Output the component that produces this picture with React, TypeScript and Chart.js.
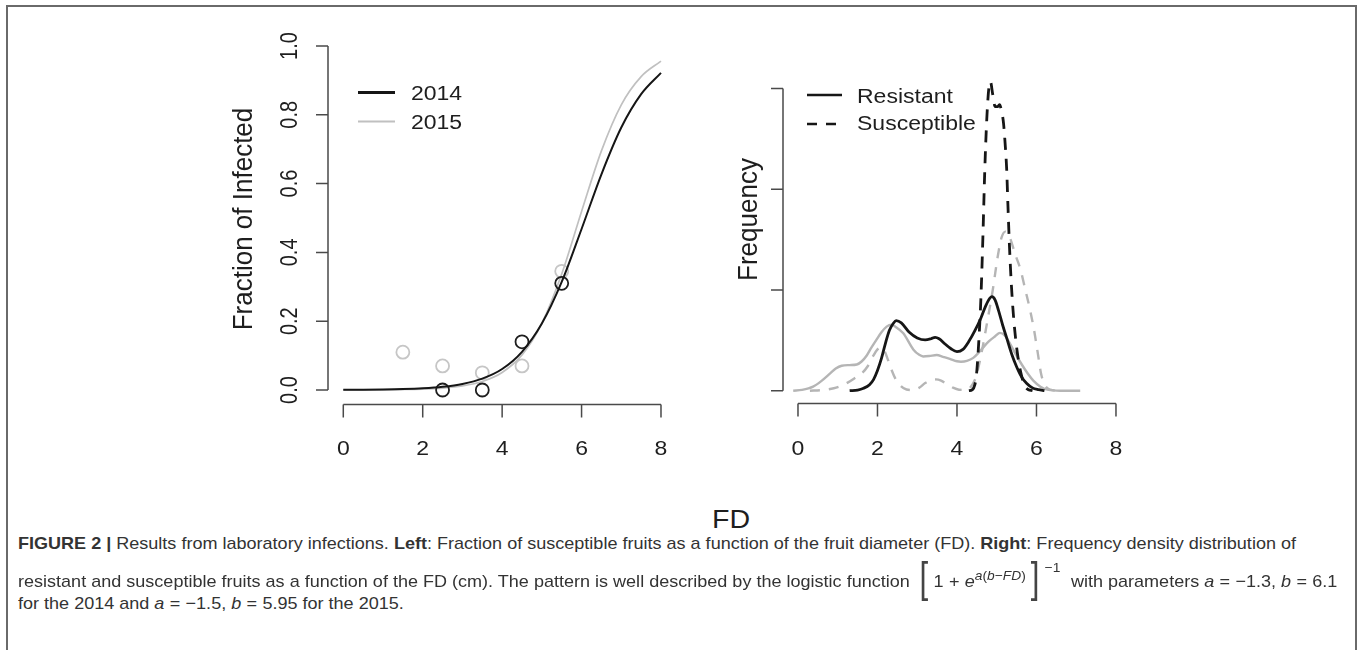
import React, { useEffect, useLayoutEffect, useRef, useState } from "react";
import { Chart, registerables } from "chart.js";

Chart.register(...registerables);

// ---------------- data: left panel ----------------
const fitGridFD = [0, 0.5, 1, 1.5, 2, 2.5, 3, 3.5, 4, 4.5, 5, 5.5, 6, 6.5, 7, 7.5, 8];
const fit2014 = [0.0004, 0.0007, 0.0013, 0.0025, 0.0048, 0.0092, 0.0175, 0.033, 0.061, 0.111, 0.193, 0.314, 0.468, 0.627, 0.763, 0.86, 0.922];
const fit2015 = [0.0001, 0.0003, 0.0006, 0.0013, 0.0027, 0.0056, 0.0118, 0.0247, 0.0509, 0.102, 0.194, 0.337, 0.519, 0.695, 0.829, 0.911, 0.956];
const obs2014FD = [2.5, 3.5, 4.5, 5.5];
const obs2014Frac = [0.0, 0.0, 0.14, 0.31];
const obs2015FD = [1.5, 2.5, 3.5, 4.5, 5.5];
const obs2015Frac = [0.11, 0.07, 0.05, 0.07, 0.345];
const leftXTicks = [0, 2, 4, 6, 8];
const leftXTickLabels = ["0", "2", "4", "6", "8"];
const leftYTicks = [0, 0.2, 0.4, 0.6, 0.8, 1.0];
const leftYTickLabels = ["0.0", "0.2", "0.4", "0.6", "0.8", "1.0"];
const leftLegendLabels = ["2014", "2015"];

// ---------------- data: right panel ----------------
const res2014FD = [1.3, 1.5, 1.65, 1.8, 1.9, 2.0, 2.1, 2.2, 2.3, 2.4, 2.47, 2.6, 2.8, 3.0, 3.2, 3.35, 3.45, 3.55, 3.7, 3.85, 4.0, 4.15, 4.3, 4.45, 4.6, 4.72, 4.8, 4.88, 4.96, 5.05, 5.15, 5.25, 5.38, 5.5, 5.62, 5.75, 5.9, 6.05, 6.2];
const res2014Dens = [0, 0.003, 0.012, 0.03, 0.055, 0.1, 0.16, 0.235, 0.3, 0.335, 0.348, 0.337, 0.29, 0.262, 0.252, 0.258, 0.265, 0.258, 0.232, 0.208, 0.194, 0.205, 0.245, 0.298, 0.36, 0.42, 0.452, 0.467, 0.45, 0.395, 0.325, 0.262, 0.18, 0.119, 0.07, 0.037, 0.014, 0.005, 0];
const sus2014FD = [4.3, 4.38, 4.45, 4.5, 4.55, 4.6, 4.65, 4.7, 4.75, 4.8, 4.84, 4.9, 4.96, 5.02, 5.07, 5.12, 5.17, 5.21, 5.25, 5.28, 5.32, 5.37, 5.43, 5.52, 5.63, 5.72, 5.8, 5.9];
const sus2014Dens = [0, 0.004, 0.03, 0.1, 0.25, 0.45, 0.75, 1.1, 1.35, 1.5, 1.535, 1.47, 1.41, 1.41, 1.42, 1.39, 1.33, 1.23, 1.1, 0.93, 0.72, 0.52, 0.35, 0.186, 0.07, 0.02, 0.005, 0];
const res2015FD = [-0.12, 0.1, 0.38, 0.6, 0.81, 0.95, 1.1, 1.3, 1.48, 1.6, 1.73, 1.85, 1.98, 2.1, 2.23, 2.35, 2.45, 2.65, 2.9, 3.05, 3.15, 3.3, 3.49, 3.65, 3.82, 4.0, 4.1, 4.25, 4.41, 4.55, 4.66, 4.8, 4.96, 5.08, 5.2, 5.33, 5.48, 5.63, 5.78, 5.92, 6.1, 6.3, 6.6, 7.1];
const res2015Dens = [0, 0.004, 0.02, 0.05, 0.086, 0.11, 0.124, 0.127, 0.13, 0.145, 0.175, 0.215, 0.255, 0.29, 0.318, 0.328, 0.318, 0.285, 0.205, 0.178, 0.17, 0.172, 0.177, 0.168, 0.158, 0.146, 0.144, 0.148, 0.163, 0.19, 0.215, 0.245, 0.27, 0.287, 0.275, 0.235, 0.18, 0.13, 0.085, 0.05, 0.02, 0.004, 0, 0];
const sus2015FD = [0.3, 0.6, 0.9, 1.1, 1.25, 1.45, 1.6, 1.75, 1.9, 2.0, 2.08, 2.17, 2.27, 2.36, 2.45, 2.58, 2.73, 2.9, 3.05, 3.2, 3.35, 3.47, 3.6, 3.75, 3.9, 4.05, 4.2, 4.35, 4.48, 4.6, 4.75, 4.9, 5.02, 5.12, 5.22, 5.33, 5.46, 5.6, 5.72, 5.84, 5.94, 6.03, 6.12, 6.22, 6.35, 6.5];
const sus2015Dens = [0, 0.003, 0.012, 0.025, 0.04, 0.065, 0.085, 0.12, 0.175, 0.205, 0.215, 0.2, 0.15, 0.1, 0.06, 0.025, 0.006, 0.003, 0.015, 0.038, 0.052, 0.056, 0.05, 0.032, 0.015, 0.005, 0.004, 0.02, 0.07, 0.17, 0.33, 0.5, 0.66, 0.76, 0.79, 0.76, 0.68, 0.6, 0.5, 0.4, 0.3, 0.19, 0.08, 0.025, 0.005, 0];
const rightXTicks = [0, 2, 4, 6, 8];
const rightXTickLabels = ["0", "2", "4", "6", "8"];
const rightYTicks = [0, 0.5, 1.0, 1.5];
const rightLegendLabels = ["Resistant", "Susceptible"];

// ---------------- styling ----------------
const FONT = '"Liberation Sans", Arial, Helvetica, sans-serif';
const BLACK = "#161616";
const GRAY = "#c0c0c0";
const GRAY_D = "#b5b5b5";
const AXIS = "#4a4a4a";
const TEXT = "#1e1e1e";
const CANVAS_W = 1360;
const CANVAS_H = 470;

const pts = (xs: number[], ys: number[]) => xs.map((x, i) => ({ x, y: ys[i] }));

function drawText(
  ctx: CanvasRenderingContext2D,
  text: string,
  x: number,
  y: number,
  size: number,
  o: { stretch?: number; rotate?: boolean; align?: CanvasTextAlign; color?: string } = {}
) {
  ctx.save();
  ctx.translate(x, y);
  ctx.scale(o.stretch ?? 1.15, 1);
  if (o.rotate) ctx.rotate(-Math.PI / 2);
  ctx.font = `${size}px ${FONT}`;
  ctx.fillStyle = o.color ?? TEXT;
  ctx.textAlign = o.align ?? "center";
  ctx.textBaseline = "alphabetic";
  ctx.fillText(text, 0, 0);
  ctx.restore();
}

type LegendItem = { label: string; color: string; width: number; dash: number[]; lineY: number; textBaseY: number };
type AxesCfg = {
  xTicks: number[];
  xLabels: string[];
  yTicks: number[];
  yLabels: string[] | null;
  yLabelBaseX: number;
  xLabelBaseY: number;
  yTitle: string;
  yTitleBaseX: number;
  yTitleCY: number;
  legendX0: number;
  legendX1: number;
  legendTextX: number;
  legend: LegendItem[];
};

function makeAxesPlugin(cfg: AxesCfg) {
  return {
    id: "rAxes",
    afterDatasetsDraw(chart: any) {
      const { ctx, chartArea } = chart;
      const xs = chart.scales.x;
      const ys = chart.scales.y;
      ctx.save();
      ctx.strokeStyle = AXIS;
      ctx.lineWidth = 1.5;
      ctx.lineCap = "butt";
      // x axis
      const xa = chartArea.bottom;
      const xFirst = xs.getPixelForValue(cfg.xTicks[0]);
      const xLast = xs.getPixelForValue(cfg.xTicks[cfg.xTicks.length - 1]);
      ctx.beginPath();
      ctx.moveTo(xFirst, xa);
      ctx.lineTo(xLast, xa);
      cfg.xTicks.forEach((t) => {
        const px = xs.getPixelForValue(t);
        ctx.moveTo(px, xa);
        ctx.lineTo(px, xa + 13);
      });
      ctx.stroke();
      cfg.xTicks.forEach((t, i) => {
        drawText(ctx, cfg.xLabels[i], xs.getPixelForValue(t), cfg.xLabelBaseY, 20);
      });
      // y axis
      const yaX = chartArea.left;
      const yFirst = ys.getPixelForValue(cfg.yTicks[0]);
      const yLast = ys.getPixelForValue(cfg.yTicks[cfg.yTicks.length - 1]);
      ctx.beginPath();
      ctx.moveTo(yaX, yFirst);
      ctx.lineTo(yaX, yLast);
      cfg.yTicks.forEach((t) => {
        const py = ys.getPixelForValue(t);
        ctx.moveTo(yaX, py);
        ctx.lineTo(yaX - 12, py);
      });
      ctx.stroke();
      if (cfg.yLabels) {
        cfg.yTicks.forEach((t, i) => {
          drawText(ctx, cfg.yLabels![i], cfg.yLabelBaseX, ys.getPixelForValue(t), 20, { rotate: true });
        });
      }
      drawText(ctx, cfg.yTitle, cfg.yTitleBaseX, cfg.yTitleCY, 26, { rotate: true, stretch: 1.08 });
      // legend
      cfg.legend.forEach((it) => {
        ctx.save();
        ctx.strokeStyle = it.color;
        ctx.lineWidth = it.width;
        ctx.setLineDash(it.dash);
        ctx.beginPath();
        ctx.moveTo(cfg.legendX0, it.lineY);
        ctx.lineTo(cfg.legendX1, it.lineY);
        ctx.stroke();
        ctx.restore();
        drawText(ctx, it.label, cfg.legendTextX, it.textBaseY, 20, { align: "left" });
      });
      ctx.restore();
    },
  };
}

function Panel(props: { datasets: any[]; xMin: number; xMax: number; yMin: number; yMax: number; padding: any; axes: AxesCfg }) {
  const ref = useRef<HTMLCanvasElement>(null);
  useEffect(() => {
    if (!ref.current) return;
    const chart = new Chart(ref.current, {
      type: "scatter",
      data: { datasets: props.datasets },
      options: {
        animation: false,
        responsive: false,
        devicePixelRatio: 1,
        layout: { padding: props.padding },
        plugins: { legend: { display: false }, tooltip: { enabled: false } },
        scales: {
          x: { type: "linear", min: props.xMin, max: props.xMax, display: false },
          y: { type: "linear", min: props.yMin, max: props.yMax, display: false },
        },
        elements: { line: { cubicInterpolationMode: "monotone" } },
      },
      plugins: [makeAxesPlugin(props.axes)],
    } as any);
    return () => chart.destroy();
  }, []);
  return (
    <canvas
      ref={ref}
      width={CANVAS_W}
      height={CANVAS_H}
      style={{ position: "absolute", left: 0, top: 0, width: CANVAS_W, height: CANVAS_H }}
    />
  );
}

const lineDs = (label: string, xs: number[], ys: number[], color: string, width: number, dash: number[] = []) => ({
  label,
  data: pts(xs, ys),
  showLine: true,
  borderColor: color,
  borderWidth: width,
  borderDash: dash,
  pointRadius: 0,
  fill: false,
  cubicInterpolationMode: "monotone",
});
const circleDs = (label: string, xs: number[], ys: number[], color: string) => ({
  label,
  data: pts(xs, ys),
  showLine: false,
  pointStyle: "circle",
  pointRadius: 6.5,
  pointBorderWidth: 1.8,
  pointBorderColor: color,
  pointBackgroundColor: "rgba(0,0,0,0)",
  borderColor: color,
  backgroundColor: "rgba(0,0,0,0)",
});

function Caption() {
  const l1 = useRef<HTMLSpanElement>(null);
  const [k, setK] = useState(1);
  useLayoutEffect(() => {
    if (l1.current) {
      const w = l1.current.getBoundingClientRect().width;
      if (w > 0) setK(1278 / w);
    }
  }, []);
  const lineStyle = (centerY: number): React.CSSProperties => ({
    position: "absolute",
    left: 18,
    top: centerY - 10,
    height: 20,
    lineHeight: "20px",
    whiteSpace: "nowrap",
    transform: `scaleX(${k})`,
    transformOrigin: "left center",
    fontFamily: FONT,
    fontSize: 17,
    color: "#333",
  });
  // pieces that must not change the line box: relative offsets with zero line-height
  const brk: React.CSSProperties = {
    fontSize: 42,
    fontWeight: 300,
    lineHeight: 0,
    position: "relative",
    top: 5,
    color: "#444",
    display: "inline-block",
    margin: "0 3px",
    transform: "scaleX(0.7)",
  };
  const sup = (top: number): React.CSSProperties => ({ fontSize: 13, lineHeight: 0, position: "relative", top, verticalAlign: "baseline" });
  const eq = { margin: "0 5px" };
  return (
    <>
      <div style={lineStyle(544)}>
        <span ref={l1}>
          <b>FIGURE 2 |</b> Results from laboratory infections. <b>Left</b>: Fraction of susceptible fruits as a function of the fruit diameter (FD).{" "}
          <b>Right</b>: Frequency density distribution of
        </span>
      </div>
      <div style={lineStyle(582)}>
        resistant and susceptible fruits as a function of the FD (cm). The pattern is well described by the logistic function{" "}
        <span style={brk}>[</span>1<span style={eq}>+</span>
        <i>e</i>
        <span style={sup(-7)}>
          <i>a</i>(<i>b</i>−<i>FD</i>)
        </span>
        <span style={brk}>]</span>
        <span style={sup(-15)}>−1</span>
        <span style={{ marginLeft: 10 }}>
          with parameters <i>a</i>
          <span style={eq}>=</span>−1.3, <i>b</i>
          <span style={eq}>=</span>6.1
        </span>
      </div>
      <div style={lineStyle(604)}>
        for the 2014 and <i>a</i>
        <span style={eq}>=</span>−1.5, <i>b</i>
        <span style={eq}>=</span>5.95 for the 2015.
      </div>
    </>
  );
}

export default function App() {
  const leftDatasets = [
    lineDs("2014 fit", fitGridFD, fit2014, BLACK, 2),
    circleDs("2014 observed", obs2014FD, obs2014Frac, "#1e1e1e"),
    lineDs("2015 fit", fitGridFD, fit2015, GRAY, 1.7),
    circleDs("2015 observed", obs2015FD, obs2015Frac, "#c6c6c6"),
  ];
  const rightDatasets = [
    lineDs("Resistant 2014", res2014FD, res2014Dens, BLACK, 2.8),
    lineDs("Susceptible 2014", sus2014FD, sus2014Dens, BLACK, 2.8, [12, 9]),
    lineDs("Resistant 2015", res2015FD, res2015Dens, GRAY_D, 2.4),
    lineDs("Susceptible 2015", sus2015FD, sus2015Dens, GRAY_D, 2.4, [10, 9]),
  ];
  const leftAxes: AxesCfg = {
    xTicks: leftXTicks,
    xLabels: leftXTickLabels,
    yTicks: leftYTicks,
    yLabels: leftYTickLabels,
    yLabelBaseX: 297,
    xLabelBaseY: 455,
    yTitle: "Fraction of Infected",
    yTitleBaseX: 252,
    yTitleCY: 219,
    legendX0: 358,
    legendX1: 395,
    legendTextX: 411,
    legend: [
      { label: leftLegendLabels[0], color: BLACK, width: 3, dash: [], lineY: 92.5, textBaseY: 99.5 },
      { label: leftLegendLabels[1], color: GRAY, width: 2, dash: [], lineY: 121.5, textBaseY: 128.5 },
    ],
  };
  const rightAxes: AxesCfg = {
    xTicks: rightXTicks,
    xLabels: rightXTickLabels,
    yTicks: rightYTicks,
    yLabels: null,
    yLabelBaseX: 0,
    xLabelBaseY: 455,
    yTitle: "Frequency",
    yTitleBaseX: 757,
    yTitleCY: 219.5,
    legendX0: 807,
    legendX1: 842,
    legendTextX: 857,
    legend: [
      { label: rightLegendLabels[0], color: BLACK, width: 2.6, dash: [], lineY: 95, textBaseY: 103 },
      { label: rightLegendLabels[1], color: BLACK, width: 2.6, dash: [10, 9], lineY: 124, textBaseY: 130 },
    ],
  };
  return (
    <div style={{ position: "absolute", left: 0, top: 0, width: 1360, height: 650, overflow: "hidden", background: "#fff" }}>
      <div
        style={{
          position: "absolute",
          left: 6,
          top: 5,
          width: 1351,
          height: 700,
          border: "2px solid #6a6a6a",
          boxSizing: "border-box",
        }}
      />
      <Panel datasets={leftDatasets} xMin={-0.385} xMax={8.32} yMin={-0.0422} yMax={1.04} padding={{ left: 328, right: CANVAS_W - 673.7, top: 32.24, bottom: CANVAS_H - 404.5 }} axes={leftAxes} />
      <Panel datasets={rightDatasets} xMin={-0.377} xMax={8.32} yMin={-0.0636} yMax={1.781} padding={{ left: 783, right: CANVAS_W - 1128.7, top: 32, bottom: CANVAS_H - 403.5 }} axes={rightAxes} />
      <div
        style={{
          position: "absolute",
          left: 731,
          top: 519,
          transform: "translate(-50%, -50%) scaleX(1.1)",
          fontFamily: FONT,
          fontSize: 26,
          color: TEXT,
          lineHeight: "30px",
        }}
      >
        FD
      </div>
      <Caption />
    </div>
  );
}
